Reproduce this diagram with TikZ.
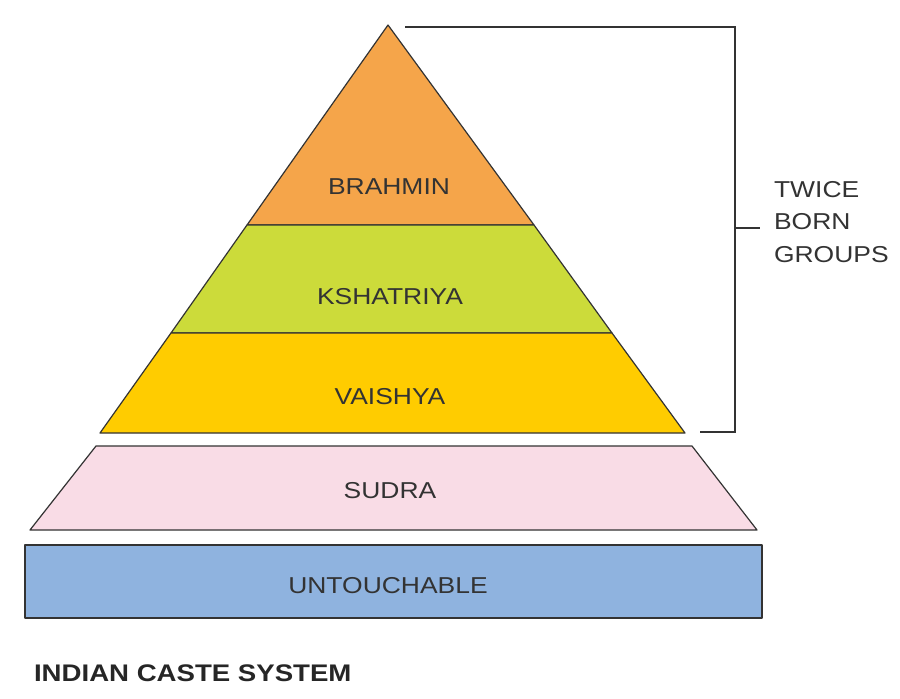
\documentclass[tikz,border=0pt]{standalone}
\usepackage{fontspec}
\setmainfont{Liberation Sans}
\definecolor{cbr}{HTML}{F5A54A}
\definecolor{cks}{HTML}{CCDB3A}
\definecolor{cva}{HTML}{FFCC00}
\definecolor{csu}{HTML}{F9DCE6}
\definecolor{cun}{HTML}{8FB3DF}
\definecolor{edge}{HTML}{333333}
\begin{document}
\begin{tikzpicture}[x=1pt,y=-1pt,
  band/.style={draw=edge,line width=1.2pt,line join=round},
  lbl/.style={font=\fontsize{23}{26}\selectfont,text=black!80,xscale=1.15}]
\useasboundingbox (0,0) rectangle (900,699);
\fill[white] (0,0) rectangle (900,699);
\draw[band,fill=cbr] (388,25) -- (534,225) -- (247,225) -- cycle;
\draw[band,fill=cks] (247,225) -- (534,225) -- (612,333) -- (171,333) -- cycle;
\draw[band,fill=cva] (171,333) -- (612,333) -- (685,433) -- (100,433) -- cycle;
\draw[band,fill=csu] (96,446) -- (692,446) -- (757,530) -- (30,530) -- cycle;
\draw[band,fill=cun] (25,545) rectangle (762,618);
\node[lbl] (br) at (389,187) {BRAHMIN};
\node[lbl] (ks) at (390,297) {KSHATRIYA};
\node[lbl] (va) at (390,397) {VAISHYA};
\node[lbl] (su) at (390,491) {SUDRA};
\node[lbl] (un) at (388,586) {UNTOUCHABLE};
\draw[edge,line width=1.5pt] (405,27) -- (735,27) -- (735,432) -- (700,432);
\draw[edge,line width=1.5pt] (735,228) -- (760,228);
\node[lbl,anchor=west,align=left,font=\fontsize{23}{32.5}\selectfont] (tb) at (770,222) {TWICE\\BORN\\GROUPS};
\node[anchor=west,font=\bfseries\fontsize{24}{26}\selectfont,text=black!85,xscale=1.15] (ti) at (30,673) {INDIAN CASTE SYSTEM};
\end{tikzpicture}
\end{document}
